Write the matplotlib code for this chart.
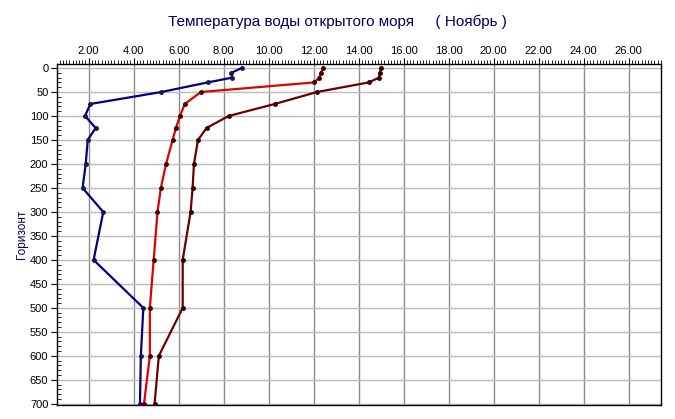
import matplotlib
matplotlib.use("Agg")
import matplotlib.pyplot as plt
from matplotlib.ticker import MultipleLocator, FormatStrFormatter

plt.rcParams['font.family'] = ['Liberation Sans', 'DejaVu Sans']

# depth horizons and temperatures
depth = [0, 10, 20, 30, 50, 75, 100, 125, 150, 200, 250, 300, 400, 500, 600, 700]
t_min = [8.80, 8.34, 8.38, 7.30, 5.23, 2.07, 1.84, 2.31, 1.96, 1.87, 1.73, 2.65, 2.22, 4.43, 4.32, 4.28]
t_mean = [12.43, 12.32, 12.25, 12.03, 6.99, 6.27, 6.06, 5.88, 5.73, 5.44, 5.21, 5.06, 4.89, 4.72, 4.72, 4.46]
t_max = [14.99, 14.95, 14.90, 14.46, 12.15, 10.27, 8.22, 7.24, 6.86, 6.68, 6.62, 6.53, 6.18, 6.18, 5.12, 4.93]

fig = plt.figure(figsize=(6.75, 4.19), dpi=100)
ax = fig.add_axes([0.084, 0.0327, 0.895, 0.8138])

ax.plot(t_min, depth, color='#000080', lw=1.6, marker='o', ms=2.5, mfc='#1a1a40', mec='#1a1a40', zorder=3)
ax.plot(t_mean, depth, color='#e00000', lw=1.6, marker='o', ms=2.5, mfc='#400000', mec='#400000', zorder=3)
ax.plot(t_max, depth, color='#6b0000', lw=1.6, marker='o', ms=2.5, mfc='#300000', mec='#300000', zorder=3)

ax.set_xlim(0.58, 27.43)
ax.set_ylim(703, -7.7)

ax.xaxis.tick_top()
ax.xaxis.set_major_locator(MultipleLocator(2))
ax.xaxis.set_minor_locator(MultipleLocator(2 / 14))
ax.xaxis.set_major_formatter(FormatStrFormatter('%.2f'))
ax.yaxis.set_major_locator(MultipleLocator(50))
ax.yaxis.set_minor_locator(MultipleLocator(10))

ax.tick_params(axis='x', which='major', direction='out', length=4, labelsize=8, pad=2)
ax.tick_params(axis='x', which='minor', direction='out', length=3)
ax.tick_params(axis='y', which='major', direction='out', length=4, labelsize=8, pad=2)
ax.tick_params(axis='y', which='minor', direction='in', length=3)

ax.grid(True, axis='x', which='major', color='#8c8c8c', lw=1)
ax.grid(True, axis='y', which='major', color='#bcbcbc', lw=1)
for s in ax.spines.values():
    s.set_color('black')
    s.set_linewidth(1)

fig.text(0.5, 0.9475, 'Температура воды открытого моря     ( Ноябрь )',
         ha='center', va='center', fontsize=11, color='#000060')
fig.text(0.033, 0.44, 'Горизонт', rotation=90, ha='center', va='center',
         fontsize=8.5, color='#000060')

fig.savefig('out.png', dpi=100)
